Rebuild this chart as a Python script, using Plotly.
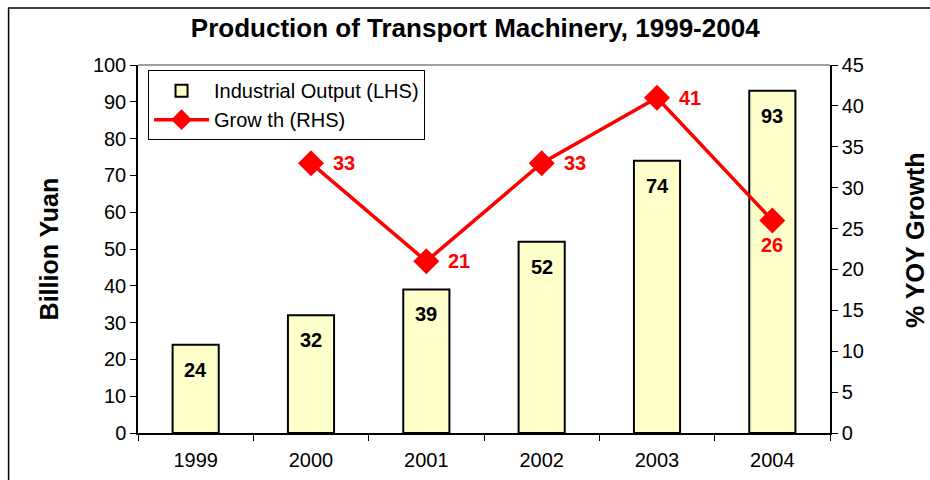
import numpy as np
import plotly.graph_objects as go

# Transport machinery production and year-on-year growth
years = ["1999", "2000", "2001", "2002", "2003", "2004"]
output_bn = [24, 32, 39, 52, 74, 93]          # billion yuan (left axis)
growth_years = ["2000", "2001", "2002", "2003", "2004"]
growth_pct = [33, 21, 33, 41, 26]             # % YOY (right axis)
growth_label_pos = ["right", "right", "right", "right", "below"]

left_ticks = list(range(0, 101, 10))
right_ticks = list(range(0, 46, 5))

FONT = "Liberation Sans, Arial, sans-serif"
RED = "#FF0000"

fig = go.Figure()

fig.add_trace(go.Bar(
    x=years, y=output_bn, name="Industrial Output (LHS)",
    marker=dict(color="#FFFFCC", line=dict(color="black", width=2)),
    width=0.4, yaxis="y", legendgroup="a",
))

fig.add_trace(go.Scatter(
    x=growth_years, y=growth_pct, name="Grow th (RHS)", yaxis="y2",
    mode="lines+markers", legendgroup="b",
    line=dict(color=RED, width=3.5),
    marker=dict(symbol="diamond", size=20, color=RED),
))

annotations = []
# category axes take the category index for annotation positions
for i, v in enumerate(output_bn):
    annotations.append(dict(
        x=i, y=v, xref="x", yref="y", text=f"<b>{v}</b>", showarrow=False,
        yshift=-25, font=dict(family=FONT, size=20, color="black"),
    ))
for yr, v, pos in zip(growth_years, growth_pct, growth_label_pos):
    i = years.index(yr)
    if pos == "right":
        annotations.append(dict(
            x=i, y=v, xref="x", yref="y2", text=f"<b>{v}</b>", showarrow=False,
            xanchor="left", xshift=20, font=dict(family=FONT, size=20, color=RED),
        ))
    else:
        annotations.append(dict(
            x=i, y=v, xref="x", yref="y2", text=f"<b>{v}</b>", showarrow=False,
            yshift=-25, font=dict(family=FONT, size=20, color=RED),
        ))

# axis titles
annotations.append(dict(
    x=-0.128, y=0.5, xref="paper", yref="paper", text="<b>Billion Yuan</b>",
    xanchor="center", yanchor="middle",
    textangle=-90, showarrow=False, font=dict(family=FONT, size=25, color="black"),
))
annotations.append(dict(
    x=1.123, y=0.525, xref="paper", yref="paper", text="<b>% YOY Growth</b>",
    xanchor="center", yanchor="middle",
    textangle=-90, showarrow=False, font=dict(family=FONT, size=25, color="black"),
))

boundaries = list(np.arange(len(years) + 1) - 0.5)
tickfont = dict(family=FONT, size=20, color="black")

fig.update_layout(
    width=930, height=480,
    margin=dict(l=138, r=100, t=65, b=47),
    paper_bgcolor="white", plot_bgcolor="white",
    font=dict(family=FONT, color="black"),
    title=dict(
        text="<b>Production of Transport Machinery, 1999-2004</b>",
        x=0.511, xanchor="center", y=0.942, yanchor="middle",
        font=dict(family=FONT, size=26, color="black"),
    ),
    showlegend=True,
    legend=dict(
        x=0.0145, y=0.986, xanchor="left", yanchor="top",
        bordercolor="black", borderwidth=1, bgcolor="white",
        font=dict(family=FONT, size=20, color="black"),
        tracegroupgap=0, itemwidth=55,
    ),
    xaxis=dict(
        type="category", range=[-0.5, 5.5], tickson="boundaries",
        ticks="outside", ticklen=6, tickcolor="black", tickwidth=1,
        showline=True, linecolor="black", linewidth=1.5,
        showgrid=False, zeroline=False, tickfont=tickfont,
        ticklabelstandoff=8, automargin=False,
    ),
    xaxis3=dict(
        overlaying="x", anchor="y", range=[-0.5, 5.5],
        tickvals=boundaries, ticks="inside", ticklen=6, tickcolor="black",
        showticklabels=False, showline=False, showgrid=False, zeroline=False,
        automargin=False,
    ),
    yaxis=dict(
        range=[0, 100], tickvals=left_ticks,
        ticks="outside", ticklen=6, tickcolor="black",
        showline=True, linecolor="black", linewidth=1.5,
        showgrid=False, zeroline=False, tickfont=tickfont, automargin=False,
    ),
    yaxis3=dict(
        overlaying="y", anchor="x", side="left", range=[0, 100], tickvals=left_ticks,
        ticks="inside", ticklen=6, tickcolor="black",
        showticklabels=False, showline=False, showgrid=False, zeroline=False,
        automargin=False,
    ),
    yaxis2=dict(
        overlaying="y", side="right", anchor="x", range=[0, 45], tickvals=right_ticks,
        ticks="outside", ticklen=6, tickcolor="black",
        showline=True, linecolor="black", linewidth=1.5,
        showgrid=False, zeroline=False, tickfont=tickfont, automargin=False,
    ),
    yaxis4=dict(
        overlaying="y", side="right", anchor="x", range=[0, 45], tickvals=right_ticks,
        ticks="inside", ticklen=6, tickcolor="black",
        showticklabels=False, showline=False, showgrid=False, zeroline=False,
        automargin=False,
    ),
    annotations=annotations,
    shapes=[
        # grey top edge of the plotting area
        dict(type="line", xref="paper", yref="paper", x0=0, x1=1, y0=1, y1=1,
             line=dict(color="#808080", width=1.5)),
        # outer chart frame
        dict(type="rect", xref="paper", yref="paper",
             x0=-0.187, x1=1.16, y0=-0.2, y1=1.155,
             line=dict(color="black", width=1.5), layer="below"),
    ],
)

fig.write_html("out.html")
